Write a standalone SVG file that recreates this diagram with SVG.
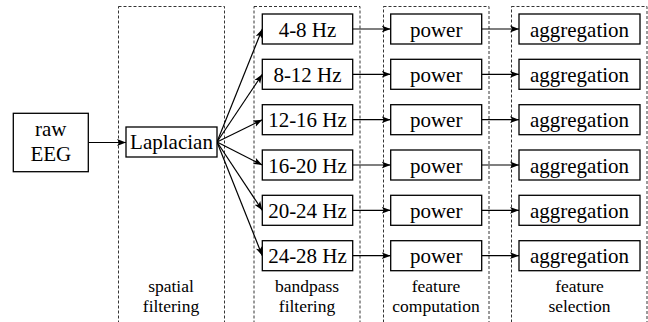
<svg xmlns="http://www.w3.org/2000/svg" width="648" height="322" viewBox="0 0 648 322" font-family="'Liberation Serif', 'Times New Roman', Times, serif">
<style>
.box{fill:#fff;stroke:#000;stroke-width:1.3}
.stage{fill:none;stroke:#000;stroke-width:0.8;stroke-dasharray:3 2}
text{font-family:'Liberation Serif','Times New Roman',Times,serif;fill:#000;text-anchor:middle}
.t{font-size:21px}
.l{font-size:17.5px}
.c{fill:none;stroke:#000;stroke-width:1.2}
</style>
<defs>
<marker id="ah" markerUnits="userSpaceOnUse" markerWidth="10" markerHeight="8" refX="9" refY="4" orient="auto">
<path d="M0,0.6 L9,4 L0,7.4 L2.2,4 Z" fill="#000"/>
</marker>
</defs>
<g id="stages">
<rect class="stage" x="118.5" y="6.5" width="106" height="330"/>
<rect class="stage" x="254" y="6.5" width="106" height="330"/>
<rect class="stage" x="383.5" y="6.5" width="105.5" height="330"/>
<rect class="stage" x="511.5" y="6.5" width="135.5" height="330"/>
</g>
<g id="labels">
<text class="l" x="171" y="291.5">spatial</text>
<text class="l" x="171" y="311.8">filtering</text>
<text class="l" x="307" y="291.5">bandpass</text>
<text class="l" x="307" y="311.8">filtering</text>
<text class="l" x="436" y="291.5">feature</text>
<text class="l" x="436" y="311.8">computation</text>
<text class="l" x="579.5" y="291.5">feature</text>
<text class="l" x="579.5" y="311.8">selection</text>
</g>
<g id="connectors">
<line class="c" x1="88.3" y1="142.5" x2="126" y2="142.5" marker-end="url(#ah)"/>
<line class="c" x1="217" y1="142" x2="262.3" y2="29" marker-end="url(#ah)"/>
<line class="c" x1="217" y1="142" x2="262.3" y2="74.3" marker-end="url(#ah)"/>
<line class="c" x1="217" y1="142" x2="262.3" y2="119.7" marker-end="url(#ah)"/>
<line class="c" x1="217" y1="142" x2="262.3" y2="165" marker-end="url(#ah)"/>
<line class="c" x1="217" y1="142" x2="262.3" y2="210.3" marker-end="url(#ah)"/>
<line class="c" x1="217" y1="142" x2="262.3" y2="255.7" marker-end="url(#ah)"/>
<line class="c" x1="352.7" y1="29" x2="390.7" y2="29" marker-end="url(#ah)"/>
<line class="c" x1="352.7" y1="74.3" x2="390.7" y2="74.3" marker-end="url(#ah)"/>
<line class="c" x1="352.7" y1="119.7" x2="390.7" y2="119.7" marker-end="url(#ah)"/>
<line class="c" x1="352.7" y1="165" x2="390.7" y2="165" marker-end="url(#ah)"/>
<line class="c" x1="352.7" y1="210.3" x2="390.7" y2="210.3" marker-end="url(#ah)"/>
<line class="c" x1="352.7" y1="255.7" x2="390.7" y2="255.7" marker-end="url(#ah)"/>
<line class="c" x1="481.7" y1="29" x2="519" y2="29" marker-end="url(#ah)"/>
<line class="c" x1="481.7" y1="74.3" x2="519" y2="74.3" marker-end="url(#ah)"/>
<line class="c" x1="481.7" y1="119.7" x2="519" y2="119.7" marker-end="url(#ah)"/>
<line class="c" x1="481.7" y1="165" x2="519" y2="165" marker-end="url(#ah)"/>
<line class="c" x1="481.7" y1="210.3" x2="519" y2="210.3" marker-end="url(#ah)"/>
<line class="c" x1="481.7" y1="255.7" x2="519" y2="255.7" marker-end="url(#ah)"/>
</g>
<g id="raw"><rect class="box" x="13.3" y="113.3" width="75" height="58.4"/><text class="t" x="50.8" y="135.5">raw</text><text class="t" x="50.8" y="161">EEG</text></g>
<g id="laplacian"><rect class="box" x="126" y="127" width="91" height="30"/><text class="t" x="171.5" y="149">Laplacian</text></g>
<g id="bp1"><rect class="box" x="262.3" y="14" width="90.4" height="30"/><text class="t" x="307.5" y="36.5">4-8 Hz</text></g>
<g id="bp2"><rect class="box" x="262.3" y="59.3" width="90.4" height="30"/><text class="t" x="307.5" y="81.8">8-12 Hz</text></g>
<g id="bp3"><rect class="box" x="262.3" y="104.7" width="90.4" height="30"/><text class="t" x="307.5" y="127.2">12-16 Hz</text></g>
<g id="bp4"><rect class="box" x="262.3" y="150" width="90.4" height="30"/><text class="t" x="307.5" y="172.5">16-20 Hz</text></g>
<g id="bp5"><rect class="box" x="262.3" y="195.3" width="90.4" height="30"/><text class="t" x="307.5" y="217.8">20-24 Hz</text></g>
<g id="bp6"><rect class="box" x="262.3" y="240.7" width="90.4" height="30"/><text class="t" x="307.5" y="263.2">24-28 Hz</text></g>
<g id="pw1"><rect class="box" x="390.7" y="14" width="91" height="30"/><text class="t" x="436.2" y="36.5">power</text></g>
<g id="pw2"><rect class="box" x="390.7" y="59.3" width="91" height="30"/><text class="t" x="436.2" y="81.8">power</text></g>
<g id="pw3"><rect class="box" x="390.7" y="104.7" width="91" height="30"/><text class="t" x="436.2" y="127.2">power</text></g>
<g id="pw4"><rect class="box" x="390.7" y="150" width="91" height="30"/><text class="t" x="436.2" y="172.5">power</text></g>
<g id="pw5"><rect class="box" x="390.7" y="195.3" width="91" height="30"/><text class="t" x="436.2" y="217.8">power</text></g>
<g id="pw6"><rect class="box" x="390.7" y="240.7" width="91" height="30"/><text class="t" x="436.2" y="263.2">power</text></g>
<g id="ag1"><rect class="box" x="519" y="14" width="121" height="30"/><text class="t" x="579.5" y="36.5">aggregation</text></g>
<g id="ag2"><rect class="box" x="519" y="59.3" width="121" height="30"/><text class="t" x="579.5" y="81.8">aggregation</text></g>
<g id="ag3"><rect class="box" x="519" y="104.7" width="121" height="30"/><text class="t" x="579.5" y="127.2">aggregation</text></g>
<g id="ag4"><rect class="box" x="519" y="150" width="121" height="30"/><text class="t" x="579.5" y="172.5">aggregation</text></g>
<g id="ag5"><rect class="box" x="519" y="195.3" width="121" height="30"/><text class="t" x="579.5" y="217.8">aggregation</text></g>
<g id="ag6"><rect class="box" x="519" y="240.7" width="121" height="30"/><text class="t" x="579.5" y="263.2">aggregation</text></g>
</svg>
